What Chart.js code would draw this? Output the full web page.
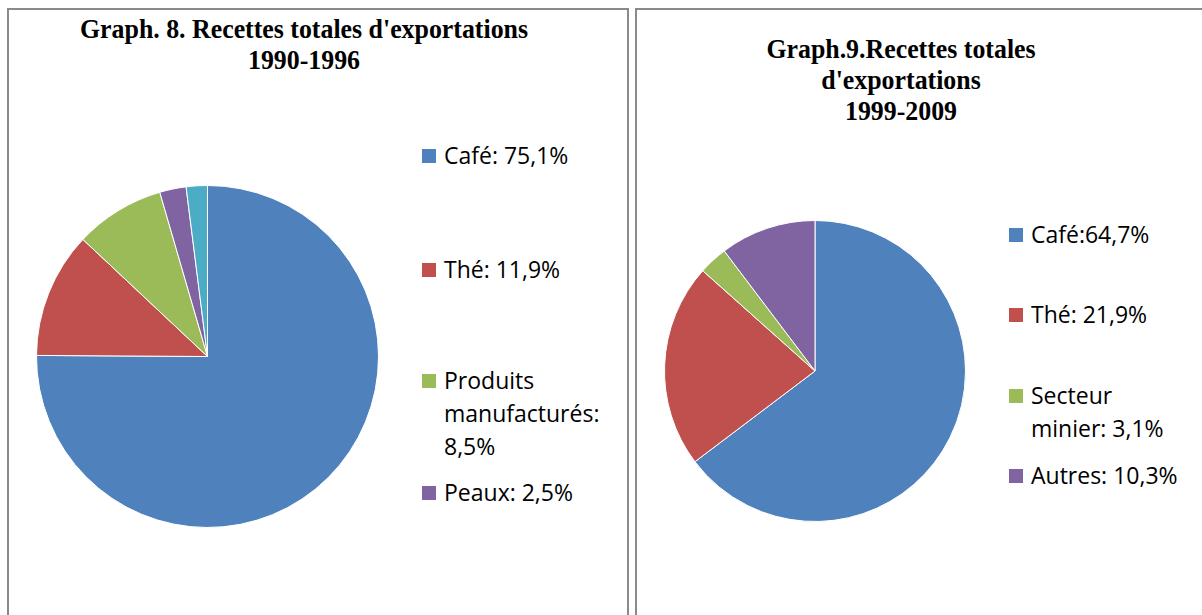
<!DOCTYPE html>
<html>
<head>
<meta charset="utf-8">
<script src="https://cdn.jsdelivr.net/npm/chart.js@4/dist/chart.umd.min.js"></script>
<style>
  html, body { margin:0; padding:0; background:#fff; width:1202px; height:615px; overflow:hidden; }
  .panel { position:absolute; border:2px solid #8a8a8a; box-sizing:border-box; background:#fff; }
  .title { position:absolute; font-family:"Liberation Serif","Times New Roman",serif; font-weight:bold;
           font-size:27.5px; line-height:31px; text-align:center; color:#000; white-space:nowrap;
           transform-origin:center top; }
  .leg { position:absolute; font-family:"Open Sans",sans-serif; font-size:23px; line-height:33px; color:#000; }
  .leg .sw { position:absolute; width:14px; height:14px; }
  .leg .tx { position:absolute; }
  canvas { position:absolute; }
</style>
</head>
<body>
<div class="panel" style="left:7px; top:8px; width:622px; height:700px;"></div>
<div class="panel" style="left:635px; top:8px; width:700px; height:700px;"></div>

<div class="title" id="t8" style="left:304px; top:13px; transform:translateX(-50%) scaleX(0.94);"></div>
<div class="title" id="t9" style="left:901px; top:33px; transform:translateX(-50%) scaleX(0.94);"></div>

<canvas id="c8" width="343" height="343" style="left:36px; top:185px;"></canvas>
<canvas id="c9" width="302" height="302" style="left:664px; top:220px;"></canvas>

<div id="leg8"></div>
<div id="leg9"></div>

<script>
// ---- Data ----
const title8 = ["Graph. 8. Recettes totales d'exportations", "1990-1996"];
const categories8 = ["Café", "Thé", "Produits manufacturés", "Peaux", "Autres"];
const values8 = [75.1, 11.9, 8.5, 2.5, 2.0];
const legend8 = ["Café: 75,1%", "Thé: 11,9%", "Produits manufacturés: 8,5%", "Peaux: 2,5%"];

const title9 = ["Graph.9.Recettes totales", "d'exportations", "1999-2009"];
const categories9 = ["Café", "Thé", "Secteur minier", "Autres"];
const values9 = [64.7, 21.9, 3.1, 10.3];
const legend9 = ["Café:64,7%", "Thé: 21,9%", "Secteur minier: 3,1%", "Autres: 10,3%"];

const colors = ["#4F81BD", "#C0504D", "#9BBB59", "#8064A2", "#4BACC6"];

// ---- Titles ----
document.getElementById('t8').innerHTML = title8.join('<br>');
document.getElementById('t9').innerHTML = title9.join('<br>');

// ---- Charts ----
function makePie(id, cats, vals) {
  return new Chart(document.getElementById(id), {
    type: 'pie',
    data: {
      labels: cats,
      datasets: [{
        data: vals,
        backgroundColor: colors.slice(0, vals.length),
        borderColor: '#ffffff',
        borderWidth: 1
      }]
    },
    options: {
      responsive: false,
      animation: false,
      devicePixelRatio: 1,
      layout: { padding: 0 },
      plugins: { legend: { display: false }, tooltip: { enabled: false }, title: { display: false } }
    }
  });
}
makePie('c8', categories8, values8);
makePie('c9', categories9, values9);

// ---- Legends (layout) ----
function makeLegend(containerId, texts, x, tops, width) {
  const c = document.getElementById(containerId);
  texts.forEach((t, i) => {
    const d = document.createElement('div');
    d.className = 'leg';
    d.style.left = x + 'px';
    d.style.top = tops[i] + 'px';
    const sw = document.createElement('div');
    sw.className = 'sw';
    sw.style.left = '0px';
    sw.style.top = '10px';
    sw.style.background = colors[i];
    const tx = document.createElement('div');
    tx.className = 'tx';
    tx.style.left = '22px';
    tx.style.top = '0px';
    tx.style.width = width + 'px';
    tx.textContent = t;
    d.appendChild(sw); d.appendChild(tx);
    c.appendChild(d);
  });
}
makeLegend('leg8', legend8, 422, [139, 253, 364, 476], 178);
makeLegend('leg9', legend9, 1009, [218, 298, 379, 459], 155);
</script>
</body>
</html>
